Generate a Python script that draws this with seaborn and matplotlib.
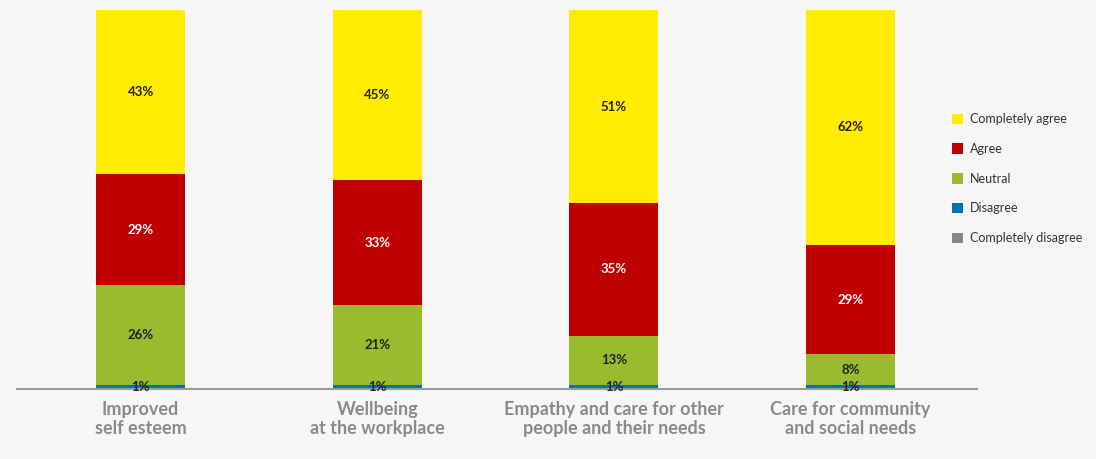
import matplotlib
matplotlib.use("Agg")
import matplotlib.pyplot as plt
import seaborn as sns
import pandas as pd
import numpy as np
from matplotlib.patches import Patch

categories = ["Improved\nself esteem", "Wellbeing\nat the workplace",
              "Empathy and care for other\npeople and their needs",
              "Care for community\nand social needs"]
completely_disagree = [0, 0, 0, 0]
disagree = [1, 1, 1, 1]
neutral = [26, 21, 13, 8]
agree = [29, 33, 35, 29]
completely_agree = [43, 45, 51, 62]

series_names = ["Completely disagree", "Disagree", "Neutral", "Agree", "Completely agree"]
series_vals = [completely_disagree, disagree, neutral, agree, completely_agree]
colors = ["#878787", "#0071b9", "#9aba2f", "#c00000", "#ffec00"]
label_colors = ["#222222", "#222222", "#222222", "#ffffff", "#222222"]

sns.set_style("white")
plt.rcParams['font.family'] = ['Lato', 'DejaVu Sans']
bg = "#f6f6f6"

fig = plt.figure(figsize=(10.96, 4.59), dpi=100, facecolor=bg)
ax = fig.add_axes([0.0155, 0.1535, 0.876, 0.8245])
ax.set_facecolor(bg)

totals = np.sum(np.array(series_vals, dtype=float), axis=0)
bottom = np.zeros(len(categories))
for name, vals, col, lc in zip(series_names, series_vals, colors, label_colors):
    share = np.array(vals, dtype=float) / totals * 100
    df = pd.DataFrame({"cat": categories, "val": share})
    sns.barplot(data=df, x="cat", y="val", color=col, width=0.376,
                bottom=bottom, ax=ax, saturation=1, linewidth=0, errorbar=None)
    for i, v in enumerate(vals):
        if v > 0:
            ax.text(i, bottom[i] + share[i] / 2, f"{v}%", ha="center", va="center",
                    fontsize=9.5, fontweight="bold", color=lc)
    bottom = bottom + share

xlim = (-0.522, 3.534)
ax.set_xlim(*xlim)
ax.set_ylim(0, 100)
ax.set_xlabel("")
ax.set_ylabel("")
ax.set_yticks([])
for s in ["top", "right", "left"]:
    ax.spines[s].set_visible(False)
ax.spines["bottom"].set_color("#9a9a9a")
ax.spines["bottom"].set_linewidth(1.5)
ax.set_xticks(range(len(categories)))
ax.set_xticklabels(categories, fontsize=13, fontweight="bold", color="#8a8a8a",
                   linespacing=1.15)
ax.tick_params(axis="x", which="major", length=0, pad=9)
ax.set_xticks(np.linspace(xlim[0], xlim[1], 5), minor=True)
ax.tick_params(axis="x", which="minor", length=7, width=1.5, color="#9a9a9a")

handles = [Patch(facecolor=c, edgecolor="none", label=n)
           for n, c in zip(series_names[::-1], colors[::-1])]
leg = fig.legend(handles=handles, loc="upper left", bbox_to_anchor=(0.858, 0.778),
                 frameon=False, fontsize=9, handlelength=0.9, handleheight=0.9,
                 labelspacing=1.42, handletextpad=0.6, labelcolor="#333333")

fig.savefig("out.png", dpi=100, facecolor=bg)
